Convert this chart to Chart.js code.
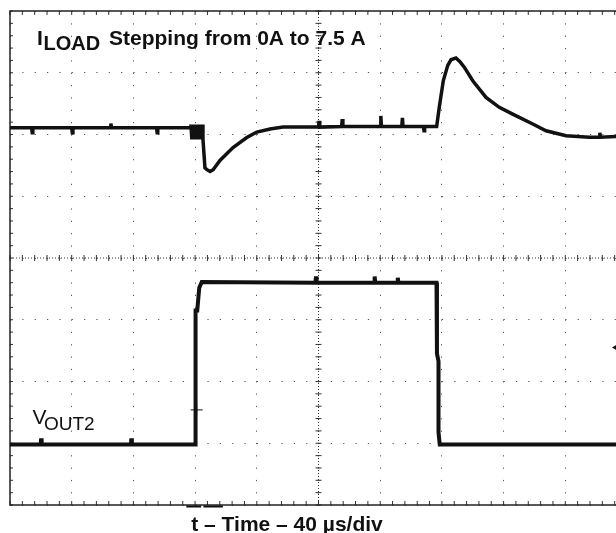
<!DOCTYPE html>
<html>
<head>
<meta charset="utf-8">
<script src="https://cdn.jsdelivr.net/npm/chart.js@4/dist/chart.umd.min.js"></script>
<style>
  html, body { margin: 0; padding: 0; background: #fff; overflow: hidden; }
  #scope { position: absolute; left: 0; top: 0; }
</style>
</head>
<body>
<canvas id="scope" width="640" height="533"></canvas>
<script>
// Time axis in microseconds (40 us/div), levels in screen divisions (0 = centre line)
const timeTicks = [0, 40, 80, 120, 160, 200, 240, 280, 320, 360, 400];
const levelTicks = [-4, -3, -2, -1, 0, 1, 2, 3, 4];

// Channel 1 - top trace (output ripple while the load steps)
const ch1Time = [
    0, 14, 14.4, 14.8, 40, 40.4, 40.8, 65, 65.4, 65.8, 95, 95.4, 95.8, 116.7,
    117.3, 117.9, 118.5, 119.1, 119.7, 120.3, 120.9, 121.5, 122.1, 122.7, 123.3, 123.9, 124.5, 125.1,
    126.4, 127.7, 129.7, 131.7, 136.1, 144.6, 153.5, 160.0, 168.6, 177.0,
    200, 200.4, 200.8, 215, 215.4, 215.8, 240, 240.4, 240.8, 254, 254.4, 254.8, 268, 268.4, 268.8, 276.6,
    278.3, 280.9, 283.8, 285.9, 289.1, 291.7, 294.5, 300.0, 308.6, 317.2, 325.9, 338.9, 347.5, 360.5,
    375.6, 382, 382.4, 382.8, 392.9, 400
];
const ch1Level = [
    2.11, 2.11, 2.03, 2.11, 2.11, 2.03, 2.11, 2.11, 2.18, 2.11, 2.11, 2.03, 2.11, 2.11,
    2.16, 1.92, 2.16, 1.92, 2.16, 1.92, 2.16, 1.92, 2.16, 1.92, 2.16, 1.92, 2.16, 1.92,
    1.46, 1.43, 1.40, 1.43, 1.58, 1.79, 1.95, 2.04, 2.09, 2.12,
    2.12, 2.22, 2.12, 2.13, 2.25, 2.13, 2.13, 2.30, 2.13, 2.13, 2.27, 2.13, 2.13, 2.06, 2.13, 2.13,
    2.44, 2.87, 3.12, 3.21, 3.24, 3.18, 3.09, 2.87, 2.60, 2.44, 2.33, 2.17, 2.06, 1.98,
    1.955, 1.955, 2.03, 1.955, 1.966, 1.966
];

// Channel 2 - bottom trace (VOUT2 step)
const ch2Time = [
    0, 19.9, 20.2, 20.5, 78.4, 78.7, 79.0, 120.3, 120.3, 121.4, 122.7, 124.3,
    198, 198.4, 198.8, 236, 236.4, 236.8, 251, 251.4, 251.8, 276.5,
    276.8, 277.8, 277.8, 278.6, 400
];
const ch2Level = [
    -3.02, -3.02, -2.92, -3.02, -3.02, -2.92, -3.02, -3.02, -0.85, -0.85, -0.48, -0.39,
    -0.40, -0.30, -0.40, -0.40, -0.30, -0.40, -0.40, -0.32, -0.40, -0.40,
    -1.55, -1.67, -2.82, -3.02, -3.02
];

const toPoints = (xs, ys) => xs.map((x, i) => ({ x: x, y: ys[i] }));

// Scope graticule: frame, centre cross with ticks, edge ticks
const graticule = {
    id: 'graticule',
    beforeDatasetsDraw(chart) {
        const { ctx, chartArea: a, scales: { x, y } } = chart;
        const ink = '#333';
        ctx.save();
        ctx.strokeStyle = ink;
        ctx.lineWidth = 1;

        // centre lines, denser dots
        ctx.setLineDash([1, 2]);
        ctx.beginPath();
        ctx.moveTo(x.getPixelForValue(200), a.top);
        ctx.lineTo(x.getPixelForValue(200), a.bottom);
        ctx.moveTo(a.left, y.getPixelForValue(0));
        ctx.lineTo(a.right, y.getPixelForValue(0));
        ctx.stroke();
        ctx.setLineDash([]);

        ctx.beginPath();
        const cx = x.getPixelForValue(200);
        const cy = y.getPixelForValue(0);
        for (let t = 0; t <= 400; t += 8) {
            const px = x.getPixelForValue(t);
            ctx.moveTo(px, cy - 3); ctx.lineTo(px, cy + 3);
            ctx.moveTo(px, a.top); ctx.lineTo(px, a.top + 4);
            ctx.moveTo(px, a.bottom); ctx.lineTo(px, a.bottom - 4);
        }
        for (let v = -4; v <= 4.001; v += 0.2) {
            const py = y.getPixelForValue(v);
            ctx.moveTo(cx - 3, py); ctx.lineTo(cx + 3, py);
            ctx.moveTo(a.left, py); ctx.lineTo(a.left + 3, py);
        }
        ctx.stroke();

        // frame
        ctx.strokeStyle = '#222';
        ctx.lineWidth = 1.5;
        ctx.strokeRect(a.left, a.top, a.right - a.left, a.bottom - a.top);
        ctx.restore();
    },
    afterDraw(chart) {
        const { ctx, chartArea: a, scales: { x, y } } = chart;
        ctx.save();
        ctx.fillStyle = '#111';
        ctx.strokeStyle = '#111';

        // trigger markers
        ctx.lineWidth = 2;
        ctx.beginPath();
        ctx.moveTo(x.getPixelForValue(114.3), a.bottom + 1.5);
        ctx.lineTo(x.getPixelForValue(123.9), a.bottom + 1.5);
        ctx.moveTo(x.getPixelForValue(125.4), a.bottom + 1.5);
        ctx.lineTo(x.getPixelForValue(138.0), a.bottom + 1.5);
        ctx.stroke();
        ctx.lineWidth = 1;
        const mx = x.getPixelForValue(121), my = y.getPixelForValue(-2.46);
        ctx.beginPath();
        ctx.moveTo(mx - 6, my); ctx.lineTo(mx + 6, my);
        ctx.moveTo(mx, my - 5); ctx.lineTo(mx, my + 5);
        ctx.stroke();
        const ty = y.getPixelForValue(-1.45);
        ctx.beginPath();
        ctx.moveTo(612, ty); ctx.lineTo(617, ty - 3); ctx.lineTo(617, ty + 3);
        ctx.closePath();
        ctx.fill();

        // labels
        ctx.textAlign = 'left';
        ctx.textBaseline = 'alphabetic';
        ctx.font = 'bold 21px "Liberation Sans", Arial, sans-serif';
        ctx.fillText('I', 37, 45);
        ctx.font = 'bold 20px "Liberation Sans", Arial, sans-serif';
        ctx.fillText('LOAD', 43.5, 49.5);
        ctx.font = 'bold 21px "Liberation Sans", Arial, sans-serif';
        ctx.fillText('Stepping from 0A to 7.5 A', 109, 45);

        ctx.font = '21px "Liberation Sans", Arial, sans-serif';
        ctx.fillText('V', 32.5, 424);
        ctx.font = '19px "Liberation Sans", Arial, sans-serif';
        ctx.fillText('OUT2', 44, 429.5);

        ctx.textAlign = 'center';
        ctx.font = 'bold 21px "Liberation Sans", Arial, sans-serif';
        ctx.fillText('t \u2013 Time \u2013 40 \u00b5s/div', 287, 531);
        ctx.restore();
    }
};

const ctx = document.getElementById('scope').getContext('2d');
const scopeChart = new Chart(ctx, {
    type: 'line',
    data: {
        datasets: [{
            label: 'CH1',
            data: toPoints(ch1Time, ch1Level),
            borderColor: '#111',
            borderWidth: 3.5,
            pointRadius: 0,
            tension: 0,
            fill: false
        }, {
            label: 'VOUT2',
            data: toPoints(ch2Time, ch2Level),
            borderColor: '#111',
            borderWidth: 4,
            pointRadius: 0,
            tension: 0,
            fill: false
        }]
    },
    options: {
        responsive: false,
        animation: false,
        events: [],
        layout: {
            padding: { left: 10, top: 11, right: 13, bottom: 28 }
        },
        scales: {
            x: {
                type: 'linear',
                min: 0,
                max: 400,
                afterBuildTicks: (scale) => { scale.ticks = timeTicks.map(v => ({ value: v })); },
                ticks: { display: false },
                grid: { color: '#555', lineWidth: 1, drawTicks: false },
                border: { display: false, dash: [1.2, 11.14] }
            },
            y: {
                type: 'linear',
                min: -4,
                max: 4,
                afterBuildTicks: (scale) => { scale.ticks = levelTicks.map(v => ({ value: v })); },
                ticks: { display: false },
                grid: { color: '#555', lineWidth: 1, drawTicks: false },
                border: { display: false, dash: [1.2, 11.14] }
            }
        },
        plugins: {
            legend: { display: false },
            tooltip: { enabled: false }
        }
    },
    plugins: [graticule]
});
</script>
</body>
</html>
